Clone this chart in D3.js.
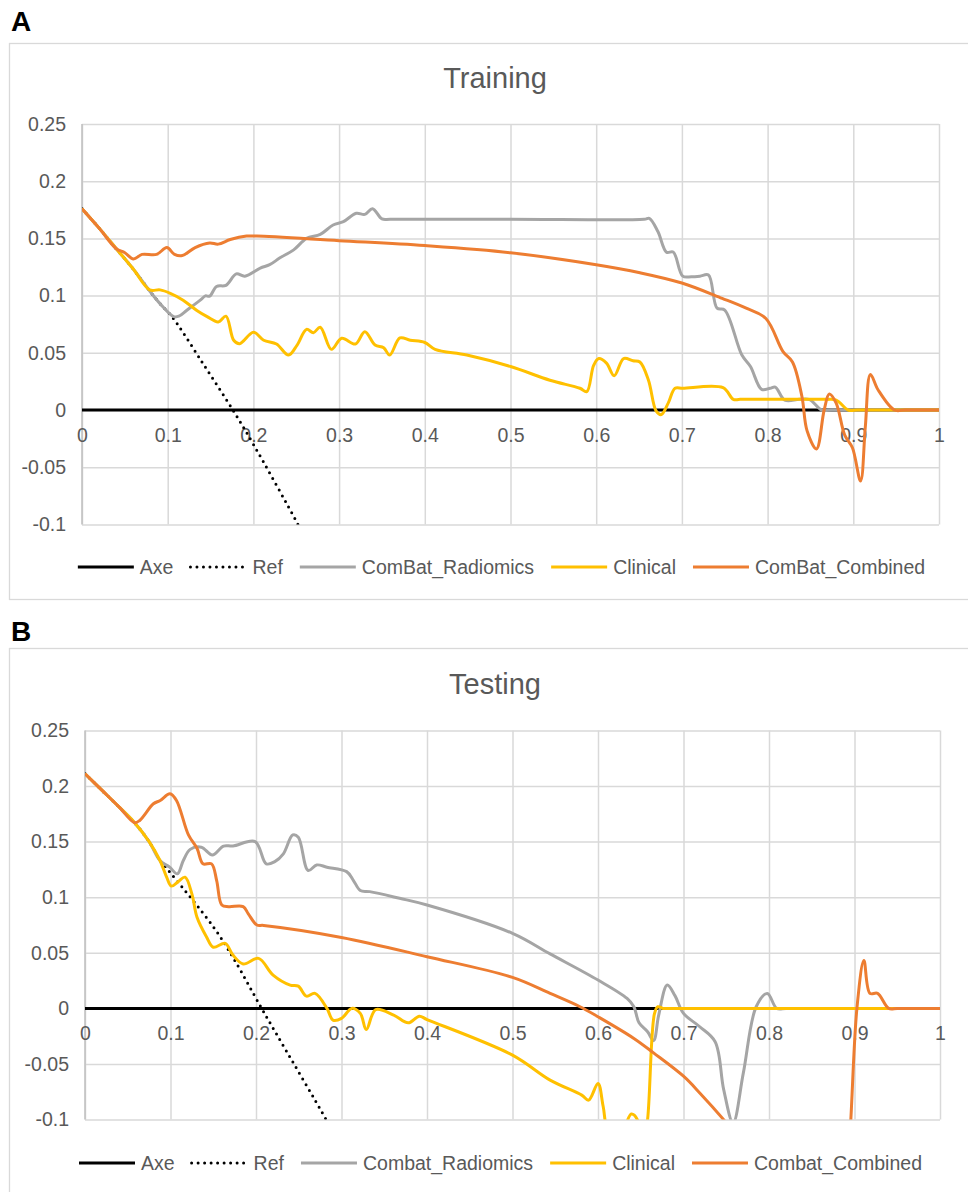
<!DOCTYPE html>
<html>
<head>
<meta charset="utf-8">
<script src="https://cdn.jsdelivr.net/npm/d3@7"></script>
<style>
  body { margin: 0; background: #fff; }
  svg { display: block; font-family: "Liberation Sans", Arial, sans-serif; }
</style>
</head>
<body>
<svg id="chart" width="968" height="1192"></svg>
<script>
// tick values (same for both panels)
const xTicks = [0, 0.1, 0.2, 0.3, 0.4, 0.5, 0.6, 0.7, 0.8, 0.9, 1];
const yTicks = [-0.1, -0.05, 0, 0.05, 0.1, 0.15, 0.2, 0.25];

const axeLine = [[0, 0], [1, 0]];

// ---- Training (A) ----
const trainLegend = ["Axe", "Ref", "ComBat_Radiomics", "Clinical", "ComBat_Combined"];
const trainRef = [
  [0, 0.176], [0.02, 0.159], [0.04, 0.141], [0.06, 0.123], [0.079, 0.104], [0.091, 0.093], [0.105, 0.0816],
  [0.14, 0.042], [0.176, 0], [0.2, -0.03], [0.252, -0.1], [0.27, -0.126]
];
const trainRadiomics = [
  [0, 0.176], [0.02, 0.159], [0.04, 0.141], [0.06, 0.123], [0.079, 0.104], [0.091, 0.093], [0.107, 0.0816],
  [0.113, 0.082], [0.122, 0.087], [0.138, 0.096], [0.144, 0.0997], [0.149, 0.0995], [0.157, 0.108], [0.168, 0.109],
  [0.18, 0.119], [0.19, 0.117], [0.208, 0.124], [0.219, 0.127], [0.231, 0.133], [0.247, 0.140], [0.262, 0.150],
  [0.278, 0.1535], [0.293, 0.1617], [0.305, 0.1646], [0.320, 0.172], [0.330, 0.171], [0.339, 0.176], [0.350, 0.167],
  [0.36, 0.1667], [0.5, 0.1667], [0.656, 0.1667], [0.662, 0.1675], [0.672, 0.156], [0.682, 0.138], [0.690, 0.138],
  [0.701, 0.117], [0.711, 0.1165], [0.721, 0.117], [0.731, 0.118], [0.741, 0.089], [0.750, 0.0874], [0.770, 0.048],
  [0.780, 0.038], [0.793, 0.018], [0.803, 0.019], [0.809, 0.020], [0.820, 0.0087], [0.837, 0.0093], [0.849, 0.009],
  [0.863, 0], [0.875, 0], [0.9, 0], [0.95, 0], [1, 0]
];
const trainClinical = [
  [0, 0.176], [0.02, 0.159], [0.04, 0.141], [0.06, 0.123], [0.079, 0.105], [0.091, 0.105], [0.103, 0.102],
  [0.118, 0.096], [0.134, 0.087], [0.146, 0.0816], [0.159, 0.077], [0.168, 0.082], [0.177, 0.061], [0.184, 0.058],
  [0.200, 0.068], [0.212, 0.061], [0.227, 0.0577], [0.241, 0.048], [0.251, 0.0568], [0.262, 0.0705], [0.270, 0.0676],
  [0.278, 0.0723], [0.291, 0.053], [0.303, 0.0627], [0.319, 0.0577], [0.330, 0.0685], [0.342, 0.0568], [0.352, 0.0545],
  [0.359, 0.048], [0.371, 0.063], [0.383, 0.061], [0.4, 0.059], [0.412, 0.053], [0.449, 0.048], [0.5, 0.038],
  [0.546, 0.026], [0.581, 0.019], [0.589, 0.016], [0.597, 0.039], [0.603, 0.045], [0.612, 0.041], [0.621, 0.030],
  [0.632, 0.045], [0.643, 0.043], [0.651, 0.042], [0.661, 0.026], [0.670, -0.001], [0.676, -0.004], [0.684, 0.006],
  [0.692, 0.019], [0.701, 0.019], [0.748, 0.0195], [0.760, 0.0093], [0.768, 0.0093], [0.868, 0.0093], [0.880, 0.0087],
  [0.894, 0], [0.905, 0], [0.93, 0], [0.96, 0], [1, 0]
];
const trainCombined = [
  [0, 0.176], [0.02, 0.159], [0.04, 0.141], [0.05, 0.1375], [0.06, 0.132], [0.07, 0.136], [0.087, 0.136],
  [0.099, 0.142], [0.108, 0.136], [0.117, 0.135], [0.132, 0.142], [0.149, 0.146], [0.159, 0.145], [0.173, 0.149],
  [0.192, 0.152], [0.204, 0.152], [0.3, 0.148], [0.4, 0.1437], [0.5, 0.1375], [0.6, 0.127], [0.651, 0.120],
  [0.7, 0.111], [0.747, 0.0976], [0.775, 0.089], [0.798, 0.080], [0.818, 0.051], [0.829, 0.042], [0.84, 0.012],
  [0.846, -0.018], [0.857, -0.034], [0.866, 0.0], [0.872, 0.014], [0.880, 0.006], [0.890, -0.022], [0.899, -0.033],
  [0.9085, -0.062], [0.914, -0.015], [0.920, 0.031], [0.929, 0.0175], [0.948, 0], [0.96, 0], [0.98, 0], [1, 0]
];

// ---- Testing (B) ----
const testLegend = ["Axe", "Ref", "Combat_Radiomics", "Clinical", "Combat_Combined"];
const testRef = [
  [0, 0.211], [0.02, 0.196], [0.04, 0.181], [0.058, 0.167], [0.075, 0.150], [0.0877, 0.133], [0.0955, 0.126],
  [0.15, 0.0734], [0.173, 0.046], [0.2066, 0], [0.23, -0.031], [0.282, -0.1], [0.3, -0.126]
];
const testRadiomics = [
  [0, 0.211], [0.02, 0.196], [0.04, 0.181], [0.058, 0.167], [0.075, 0.150], [0.0877, 0.133], [0.099, 0.127],
  [0.108, 0.121], [0.115, 0.133], [0.123, 0.143], [0.136, 0.145], [0.149, 0.138], [0.162, 0.146], [0.173, 0.146],
  [0.199, 0.150], [0.212, 0.130], [0.222, 0.132], [0.232, 0.139], [0.243, 0.156], [0.2495, 0.154], [0.261, 0.124],
  [0.271, 0.129], [0.283, 0.127], [0.306, 0.123], [0.314, 0.115], [0.322, 0.106], [0.333, 0.105], [0.368, 0.099],
  [0.4, 0.093], [0.5, 0.0675], [0.544, 0.049], [0.6, 0.0255], [0.634, 0.009], [0.642, 0.0015], [0.648, -0.013],
  [0.658, -0.021], [0.665, -0.029], [0.671, -0.006], [0.681, 0.021], [0.690, 0.0115], [0.700, -0.0045],
  [0.719, -0.0165], [0.737, -0.030], [0.747, -0.073], [0.758, -0.103], [0.770, -0.058], [0.785, 0.0015],
  [0.798, 0.0135], [0.809, 0], [0.82, 0], [0.85, 0], [0.9, 0], [0.95, 0], [1, 0]
];
const testClinical = [
  [0, 0.211], [0.02, 0.196], [0.04, 0.181], [0.058, 0.167], [0.075, 0.150], [0.0877, 0.133], [0.0955, 0.118],
  [0.101, 0.110], [0.109, 0.114], [0.117, 0.118], [0.125, 0.103], [0.131, 0.082], [0.142, 0.0645], [0.150, 0.055],
  [0.164, 0.0585], [0.173, 0.048], [0.185, 0.040], [0.203, 0.045], [0.220, 0.030], [0.240, 0.021], [0.2495, 0.020],
  [0.259, 0.011], [0.269, 0.0135], [0.283, 0], [0.290, -0.0105], [0.300, -0.009], [0.312, 0], [0.322, -0.0045],
  [0.329, -0.019], [0.340, -0.001], [0.361, -0.006], [0.378, -0.013], [0.391, -0.007], [0.4, -0.010], [0.5, -0.042],
  [0.544, -0.0645], [0.581, -0.078], [0.589, -0.0825], [0.600, -0.0675], [0.606, -0.088], [0.612, -0.11],
  [0.625, -0.115], [0.639, -0.095], [0.646, -0.10], [0.652, -0.13], [0.658, -0.10], [0.666, -0.005], [0.670, 0.0015],
  [0.676, 0], [0.69, 0], [0.75, 0], [0.85, 0], [0.95, 0], [1, 0]
];
const testCombined = [
  [0, 0.211], [0.02, 0.196], [0.04, 0.181], [0.058, 0.167], [0.064, 0.169], [0.080, 0.184], [0.088, 0.187],
  [0.0994, 0.193], [0.107, 0.187], [0.121, 0.156], [0.131, 0.144], [0.138, 0.130], [0.148, 0.130], [0.154, 0.115],
  [0.160, 0.093], [0.168, 0.0915], [0.185, 0.0915], [0.191, 0.085], [0.201, 0.075], [0.209, 0.0746], [0.3, 0.0638],
  [0.4, 0.0465], [0.5, 0.0279], [0.544, 0.0135], [0.579, 0.0015], [0.6, -0.0075], [0.642, -0.027], [0.665, -0.040],
  [0.7, -0.061], [0.719, -0.076], [0.747, -0.100], [0.8, -0.15], [0.85, -0.20], [0.885, -0.23], [0.895, -0.11],
  [0.903, 0.0015], [0.911, 0.043], [0.918, 0.0135], [0.927, 0.0135], [0.940, 0], [0.95, 0], [0.975, 0], [1, 0]
];

const colors = ["#000000", "#000000", "#a5a5a5", "#ffc000", "#ed7d31"];
const textColor = "#595959";
const gridColor = "#d9d9d9";

const svg = d3.select("#chart");

function drawPanel(p) {
  const g = svg.append("g");

  // chart frame + panel letter
  g.append("rect")
    .attr("x", 9.5).attr("y", p.frameTop)
    .attr("width", 990).attr("height", p.frameHeight)
    .attr("fill", "#fff").attr("stroke", gridColor).attr("stroke-width", 1.3);
  g.append("text")
    .attr("x", 11).attr("y", p.labelY)
    .attr("font-size", 28).attr("font-weight", "bold").attr("fill", "#000")
    .text(p.label);
  g.append("text")
    .attr("x", 495).attr("y", p.titleY)
    .attr("text-anchor", "middle").attr("font-size", 29).attr("fill", textColor)
    .text(p.title);

  const x = d3.scaleLinear().domain([0, 1]).range([p.left, p.right]);
  const y = d3.scaleLinear().domain([-0.1, 0.25]).range([p.bottom, p.top]);

  // horizontal gridlines + y labels
  g.append("g")
    .attr("transform", `translate(${p.left},0)`)
    .call(d3.axisLeft(y).tickValues(yTicks).tickSize(-(p.right - p.left)).tickPadding(16).tickFormat(d => String(d)))
    .attr("font-family", null).attr("font-size", 19.5)
    .call(a => a.select(".domain").remove())
    .call(a => a.selectAll("line").attr("stroke", gridColor).attr("stroke-width", 1.5))
    .call(a => a.selectAll("text").attr("fill", textColor));

  // vertical gridlines
  g.append("g")
    .attr("transform", `translate(0,${p.bottom})`)
    .call(d3.axisBottom(x).tickValues(xTicks).tickSize(-(p.bottom - p.top)).tickFormat(""))
    .call(a => a.select(".domain").remove())
    .call(a => a.selectAll("line").attr("stroke", gridColor).attr("stroke-width", 1.5));

  // value axis line
  g.append("line")
    .attr("x1", x(0)).attr("x2", x(0)).attr("y1", p.top).attr("y2", p.bottom)
    .attr("stroke", "#bfbfbf").attr("stroke-width", 1.5);

  // x labels sit on the zero line
  g.append("g")
    .attr("transform", `translate(0,${y(0)})`)
    .call(d3.axisBottom(x).tickValues(xTicks).tickSize(0).tickPadding(18).tickFormat(d => String(d)))
    .attr("font-family", null).attr("font-size", 19.5)
    .call(a => a.select(".domain").remove())
    .call(a => a.selectAll("text").attr("fill", textColor));

  // series
  const clipId = "clip" + p.label;
  svg.append("clipPath").attr("id", clipId)
    .append("rect")
    .attr("x", p.left).attr("y", p.top)
    .attr("width", p.right - p.left).attr("height", p.bottom - p.top);

  const smooth = d3.line()
    .x(d => x(d[0])).y(d => y(d[1]))
    .curve(d3.curveCatmullRom.alpha(0.5));
  const straight = d3.line().x(d => x(d[0])).y(d => y(d[1]));

  const plot = g.append("g").attr("clip-path", `url(#${clipId})`);
  plot.append("path").attr("d", straight(axeLine))
    .attr("fill", "none").attr("stroke", colors[0]).attr("stroke-width", 3);
  plot.append("path").attr("d", smooth(p.ref))
    .attr("fill", "none").attr("stroke", colors[1]).attr("stroke-width", 3)
    .attr("stroke-dasharray", "0 6.5").attr("stroke-linecap", "round");
  [p.radiomics, p.clinical, p.combined].forEach((s, i) => {
    plot.append("path").attr("d", smooth(s))
      .attr("fill", "none").attr("stroke", colors[i + 2]).attr("stroke-width", 3)
      .attr("stroke-linejoin", "round");
  });

  // legend
  const lg = g.append("g");
  let cx = 0;
  p.legend.forEach((name, i) => {
    const item = lg.append("g").attr("transform", `translate(${cx},0)`);
    const ln = item.append("line")
      .attr("x1", 1).attr("x2", 57).attr("y1", 0).attr("y2", 0)
      .attr("stroke", colors[i]).attr("stroke-width", 3);
    if (i === 1) ln.attr("stroke-dasharray", "0 6.5").attr("stroke-linecap", "round");
    const t = item.append("text")
      .attr("x", 63).attr("dy", "0.35em")
      .attr("font-size", 19.5).attr("fill", textColor)
      .text(name);
    cx += 63 + t.node().getComputedTextLength() + 16;
  });
  const total = cx - 16;
  lg.attr("transform", `translate(${p.legendCenter - total / 2},${p.legendY})`);
}

drawPanel({
  label: "A", title: "Training", labelY: 31, titleY: 88,
  frameTop: 43.5, frameHeight: 556,
  left: 82, right: 939, top: 124, bottom: 524.4,
  legendY: 567, legendCenter: 501, legend: trainLegend,
  ref: trainRef, radiomics: trainRadiomics, clinical: trainClinical, combined: trainCombined
});

drawPanel({
  label: "B", title: "Testing", labelY: 641, titleY: 694,
  frameTop: 648.5, frameHeight: 600,
  left: 85, right: 940, top: 730.4, bottom: 1119.6,
  legendY: 1163, legendCenter: 500, legend: testLegend,
  ref: testRef, radiomics: testRadiomics, clinical: testClinical, combined: testCombined
});
</script>
</body>
</html>
